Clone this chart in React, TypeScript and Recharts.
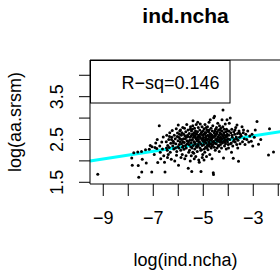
import { ScatterChart, Scatter, XAxis, YAxis, ReferenceLine } from 'recharts';

// log(ind.ncha) vs log(aa.srsm)
const points: [number, number][] = [
  [-9.22, 1.69],
  [-7.86, 2.07], [-7.84, 1.9], [-7.78, 2.19], [-7.62, 2.21], [-7.6, 1.89], [-7.58, 1.62], [-7.47, 2.22],
  [-7.44, 2.04], [-7.46, 1.74], [-7.31, 2.26], [-7.28, 1.95], [-7.16, 2.27], [-7.12, 2.36], [-7.05, 2.33],
  [-7.06, 1.74], [-6.96, 2.15], [-6.93, 2.31], [-6.9, 2.42], [-6.86, 2.29], [-6.82, 1.96], [-6.84, 2.5],
  [-6.76, 2.82], [-6.74, 2.35], [-6.72, 2.2], [-6.7, 2.05], [-6.66, 2.44], [-6.63, 2.28], [-6.6, 2.56],
  [-6.58, 2.12], [-6.55, 1.97], [-6.53, 1.74],
  [-6.48, 2.45], [-6.46, 2.6], [-6.44, 2.25], [-6.42, 2.36], [-6.4, 2.15], [-6.38, 2.5], [-6.36, 2.31],
  [-6.34, 2.66], [-6.32, 2.2], [-6.3, 2.41], [-6.28, 2.04], [-6.26, 2.55], [-6.24, 2.71], [-6.22, 2.35],
  [-6.2, 2.46], [-6.18, 2.28], [-6.16, 2.6], [-6.14, 2.0], [-6.12, 2.52], [-6.1, 2.4], [-6.08, 2.75],
  [-6.06, 2.22], [-6.04, 2.57], [-6.02, 2.33], [-6.0, 2.84], [-5.99, 1.9], [-6.01, 2.47], [-6.03, 2.65],
  [-6.07, 2.13], [-6.11, 2.3], [-6.19, 2.42], [-6.27, 2.5], [-6.35, 2.57], [-6.43, 2.08], [-6.47, 2.3],
  [-5.98, 2.55], [-5.96, 2.38], [-5.94, 2.7], [-5.92, 2.45], [-5.9, 2.25], [-5.88, 2.6], [-5.86, 2.5],
  [-5.84, 2.15], [-5.82, 2.78], [-5.8, 2.35], [-5.78, 2.62], [-5.76, 2.43], [-5.74, 2.05], [-5.72, 2.52],
  [-5.7, 2.68], [-5.68, 2.3], [-5.66, 2.85], [-5.64, 2.4], [-5.62, 2.57], [-5.6, 1.83], [-5.58, 2.2],
  [-5.56, 2.64], [-5.54, 2.48], [-5.52, 2.74], [-5.5, 2.33], [-5.97, 2.3], [-5.93, 2.52], [-5.89, 2.08],
  [-5.85, 2.66], [-5.81, 2.45], [-5.77, 2.27], [-5.73, 2.58], [-5.69, 2.12], [-5.65, 2.47], [-5.61, 2.72],
  [-5.57, 2.38], [-5.53, 2.55], [-5.95, 2.62], [-5.87, 2.4], [-5.79, 2.52], [-5.71, 2.36], [-5.63, 2.6],
  [-5.55, 2.25], [-5.51, 2.8], [-5.91, 2.72], [-5.83, 2.32], [-5.75, 2.76], [-5.67, 2.55], [-5.59, 2.44],
  [-5.52, 2.0],
  [-5.49, 2.58], [-5.48, 2.42], [-5.47, 2.7], [-5.46, 1.75], [-5.45, 2.3], [-5.44, 2.62], [-5.43, 2.5],
  [-5.42, 2.82], [-5.41, 2.94], [-5.4, 2.36], [-5.39, 2.55], [-5.38, 2.18], [-5.37, 2.66], [-5.36, 2.45],
  [-5.35, 2.76], [-5.34, 2.28], [-5.33, 2.58], [-5.32, 2.4], [-5.31, 2.7], [-5.3, 2.1], [-5.29, 2.52],
  [-5.28, 2.85], [-5.27, 2.34], [-5.26, 2.62], [-5.25, 2.47], [-5.24, 2.22], [-5.23, 2.68], [-5.22, 2.56],
  [-5.21, 2.38], [-5.2, 2.78], [-5.19, 2.5], [-5.18, 2.02], [-5.17, 2.6], [-5.16, 1.97], [-5.15, 2.44],
  [-5.14, 2.72], [-5.13, 2.3], [-5.12, 2.86], [-5.11, 2.54], [-5.1, 2.4], [-5.09, 1.75], [-5.08, 2.65],
  [-5.07, 2.26], [-5.06, 2.5], [-5.05, 2.8], [-5.04, 2.36], [-5.03, 2.6], [-5.02, 2.15], [-5.01, 2.46],
  [-5.0, 2.7], [-5.46, 2.48], [-5.42, 2.2], [-5.38, 2.6], [-5.34, 2.42], [-5.3, 2.64], [-5.26, 2.32],
  [-5.22, 2.9], [-5.18, 2.44], [-5.14, 2.56], [-5.1, 2.25], [-5.06, 2.68], [-5.02, 2.52], [-5.48, 2.12],
  [-5.36, 2.05], [-5.24, 2.5], [-5.12, 2.62], [-5.04, 2.08], [-5.44, 2.74], [-5.32, 2.55], [-5.2, 2.35],
  [-4.99, 2.55], [-4.98, 2.38], [-4.97, 2.75], [-4.96, 2.46], [-4.95, 2.62], [-4.94, 2.2], [-4.93, 2.85],
  [-4.92, 2.5], [-4.91, 2.32], [-4.9, 2.66], [-4.89, 2.42], [-4.88, 2.58], [-4.87, 2.1], [-4.86, 2.72],
  [-4.85, 2.48], [-4.84, 2.36], [-4.83, 2.8], [-4.82, 2.6], [-4.81, 2.26], [-4.8, 2.52], [-4.79, 2.68],
  [-4.78, 2.44], [-4.77, 2.9], [-4.76, 2.34], [-4.75, 2.56], [-4.74, 2.15], [-4.73, 2.64], [-4.72, 2.96],
  [-4.71, 2.48], [-4.7, 2.4], [-4.69, 2.76], [-4.68, 2.3], [-4.67, 2.6], [-4.66, 2.52], [-4.65, 2.05],
  [-4.64, 2.7], [-4.63, 2.45], [-4.62, 2.82], [-4.61, 2.38], [-4.6, 1.72], [-4.59, 1.68], [-4.58, 3.01],
  [-4.57, 2.55], [-4.56, 2.66], [-4.55, 3.04], [-4.54, 2.42], [-4.53, 2.6], [-4.52, 2.25], [-4.51, 2.74],
  [-4.5, 2.5], [-4.98, 2.62], [-4.94, 2.45], [-4.9, 2.54], [-4.86, 2.3], [-4.82, 2.7], [-4.78, 2.58],
  [-4.74, 2.4], [-4.7, 2.62], [-4.66, 2.35], [-4.62, 2.56], [-4.58, 2.46], [-4.54, 2.7], [-4.96, 2.28],
  [-4.88, 2.78], [-4.8, 2.38], [-4.72, 2.5], [-4.64, 2.6], [-4.56, 2.32], [-4.92, 2.66], [-4.84, 2.5],
  [-4.76, 2.72], [-4.68, 2.55], [-4.6, 2.44], [-4.52, 2.58], [-4.97, 2.02],
  [-4.49, 2.62], [-4.48, 2.4], [-4.47, 2.78], [-4.46, 2.52], [-4.45, 2.3], [-4.44, 2.68], [-4.43, 2.46],
  [-4.42, 2.88], [-4.41, 2.56], [-4.4, 2.36], [-4.39, 2.72], [-4.38, 2.5], [-4.37, 2.6], [-4.36, 2.22],
  [-4.35, 2.82], [-4.34, 2.44], [-4.33, 2.66], [-4.32, 2.54], [-4.31, 2.38], [-4.3, 2.76], [-4.29, 2.48],
  [-4.28, 2.62], [-4.27, 2.3], [-4.26, 2.7], [-4.25, 2.96], [-4.24, 2.52], [-4.23, 2.42], [-4.22, 2.8],
  [-4.21, 3.19], [-4.2, 2.58], [-4.19, 2.07], [-4.18, 2.66], [-4.17, 2.46], [-4.16, 2.74], [-4.15, 2.35],
  [-4.14, 2.6], [-4.13, 2.5], [-4.12, 2.86], [-4.11, 2.4], [-4.1, 2.68], [-4.09, 2.55], [-4.08, 2.28],
  [-4.07, 2.74], [-4.06, 2.48], [-4.05, 2.96], [-4.04, 2.62], [-4.03, 2.44], [-4.02, 2.7], [-4.01, 2.52],
  [-4.0, 2.38], [-4.46, 2.64], [-4.38, 2.34], [-4.3, 2.55], [-4.22, 2.6], [-4.14, 2.45], [-4.06, 2.58],
  [-4.42, 2.48], [-4.34, 2.72], [-4.26, 2.44], [-4.18, 2.54],
  [-3.98, 2.6], [-3.96, 2.88], [-3.94, 2.5], [-3.92, 3.0], [-3.9, 2.66], [-3.88, 2.42], [-3.86, 2.74],
  [-3.84, 2.55], [-3.82, 2.35], [-3.8, 2.06], [-3.78, 2.68], [-3.76, 2.5], [-3.74, 2.62], [-3.72, 2.44],
  [-3.7, 2.78], [-3.68, 2.56], [-3.66, 2.38], [-3.65, 2.84], [-3.63, 2.64], [-3.61, 2.48], [-3.59, 1.99],
  [-3.57, 2.7], [-3.55, 2.55], [-3.53, 2.4], [-3.51, 2.62], [-3.97, 2.7], [-3.91, 2.4], [-3.85, 2.6],
  [-3.79, 2.46], [-3.73, 2.72], [-3.67, 2.52], [-3.62, 2.3], [-3.56, 2.66], [-3.99, 2.3], [-3.87, 2.2],
  [-3.48, 2.58], [-3.45, 2.8], [-3.43, 2.45], [-3.4, 2.66], [-3.39, 2.72], [-3.36, 2.52], [-3.33, 2.38],
  [-3.3, 2.62], [-3.26, 2.5], [-3.22, 2.7], [-3.18, 2.44], [-3.14, 2.58], [-3.08, 2.46], [-3.05, 2.62],
  [-3.02, 2.35],
  [-2.96, 2.55], [-2.92, 2.72], [-2.85, 2.92], [-2.79, 2.39], [-2.7, 2.5], [-2.39, 2.14], [-2.35, 2.75],
  [-2.19, 2.21],
];

const xTicks = [-9, -8, -7, -6, -5, -4, -3, -2];
const xLabelled = [-9, -7, -5, -3];
const yTicks = [1.5, 2, 2.5, 3, 3.5, 4];
const yLabelled = [1.5, 2.5, 3.5];

// lm fit shown as the cyan line
const fitIntercept = 2.856;
const fitSlope = 0.09;
const rSquared = 0.146;

const X_DOMAIN: [number, number] = [-9.53, -1.89];
const Y_DOMAIN: [number, number] = [1.46, 4.357];

const FONT = '"Liberation Sans", Arial, Helvetica, sans-serif';

function fmt(n: number): string {
  return n < 0 ? `\u2212${Math.abs(n)}` : `${n}`;
}

function isLabelled(list: number[], v: any) {
  return list.some((t) => Math.abs(t - Number(v)) < 1e-6);
}

function XTick(props: any) {
  const { x, y, payload } = props;
  if (!isLabelled(xLabelled, payload.value)) return <g />;
  return (
    <text x={x} y={y + 26} textAnchor="middle" fontSize={18} fill="#000">
      {fmt(payload.value)}
    </text>
  );
}

function YTick(props: any) {
  const { y, payload } = props;
  if (!isLabelled(yLabelled, payload.value)) return <g />;
  const tx = 63;
  return (
    <g transform={`translate(${tx}, ${y}) rotate(-90)`}>
      <text x={0} y={0} textAnchor="middle" fontSize={18} fill="#000">
        {Number(payload.value).toFixed(1)}
      </text>
    </g>
  );
}

function Dot(props: any) {
  return <circle cx={props.cx} cy={props.cy} r={1.5} fill="#000" />;
}

export default function App() {
  const data = points.map(([x, y]) => ({ x, y }));
  const fitSegment = [
    { x: X_DOMAIN[0], y: fitIntercept + fitSlope * X_DOMAIN[0] },
    { x: X_DOMAIN[1], y: fitIntercept + fitSlope * X_DOMAIN[1] },
  ];
  return (
    <div
      style={{
        position: 'fixed', left: 0, top: 0, width: 280, height: 273,
        overflow: 'hidden', background: '#fff', fontFamily: FONT,
      }}
    >
      <ScatterChart width={291} height={273} margin={{ top: 60, right: 10, bottom: 0, left: 0 }}>
        <XAxis
          type="number"
          dataKey="x"
          domain={X_DOMAIN}
          ticks={xTicks}
          interval={0}
          allowDataOverflow
          height={89}
          axisLine={{ stroke: '#000' }}
          tickLine={{ stroke: '#000' }}
          tickSize={12}
          tick={<XTick />}
        />
        <YAxis
          type="number"
          dataKey="y"
          domain={Y_DOMAIN}
          ticks={yTicks}
          interval={0}
          allowDataOverflow
          width={90}
          axisLine={{ stroke: '#000' }}
          tickLine={{ stroke: '#000' }}
          tickSize={11}
          tickMargin={0}
          tick={<YTick />}
        />
        <ReferenceLine y={Y_DOMAIN[1]} stroke="#000" />
        <ReferenceLine x={X_DOMAIN[1]} stroke="#000" />
        <Scatter data={data} shape={<Dot />} isAnimationActive={false} />
        <ReferenceLine segment={fitSegment} stroke="#00FFFF" strokeWidth={3} />
        <text x={185.5} y={23} textAnchor="middle" fontSize={21} fontWeight="bold" fill="#000">
          ind.ncha
        </text>
        <text x={185.5} y={266} textAnchor="middle" fontSize={18} fill="#000">
          log(ind.ncha)
        </text>
        <text x={21} y={122} transform="rotate(-90, 21, 122)" textAnchor="middle" fontSize={18} fill="#000">
          log(aa.srsm)
        </text>
        <rect x={90.5} y={60.5} width={139.5} height={42.5} fill="#fff" stroke="#000" />
        <text x={121.5} y={89} fontSize={18} fill="#000">
          {`R\u2212sq=${rSquared}`}
        </text>
      </ScatterChart>
    </div>
  );
}
